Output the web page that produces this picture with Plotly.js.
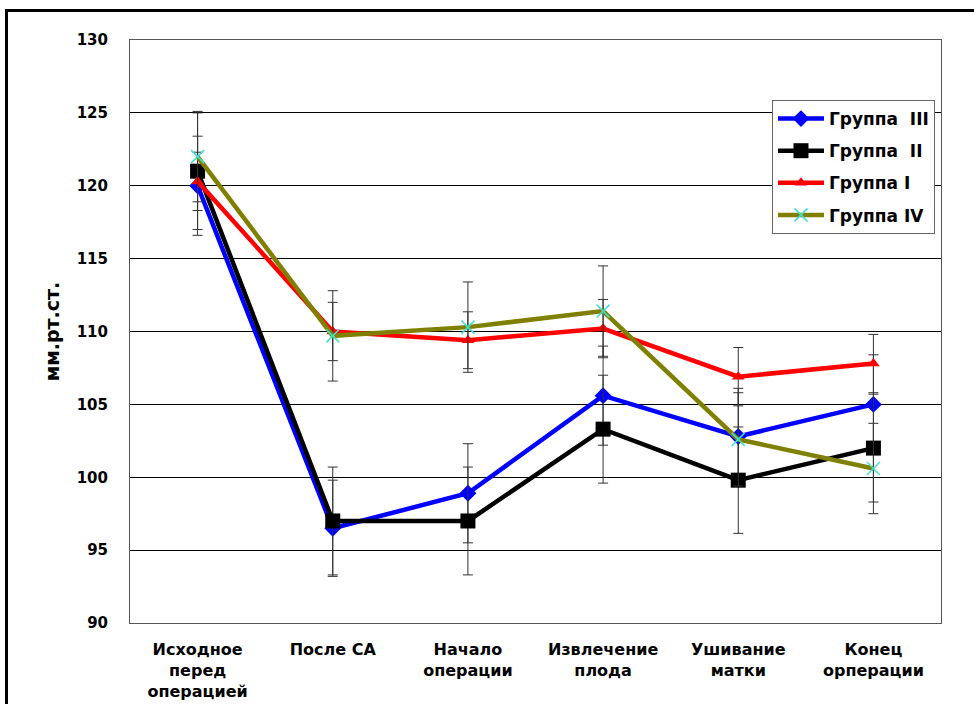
<!DOCTYPE html>
<html><head><meta charset="utf-8">
<script src="https://cdn.plot.ly/plotly-3.0.1.min.js"></script>
<style>
body{margin:0;padding:0;background:#fff;}
#wrap{position:relative;width:974px;height:704px;overflow:hidden;}
#chart{position:absolute;left:0;top:0;width:974px;height:704px;}
#frame{position:absolute;left:5px;top:9px;width:1000px;height:800px;border:3px solid #000;pointer-events:none;}
</style></head>
<body><div id="wrap"><div id="chart"></div><div id="frame"></div></div>
<script>
var categories = ["Исходное<br>перед<br>операцией","После СА","Начало<br>операции","Извлечение<br>плода","Ушивание<br>матки","Конец<br>орперации"];
var names = ["Группа  III","Группа  II","Группа I","Группа IV"];
var g3 = [120.0, 96.5, 98.9, 105.6, 102.8, 105.0];
var g2 = [121.0, 97.0, 97.0, 103.3, 99.8, 102.0];
var g1 = [120.3, 110.0, 109.4, 110.2, 106.9, 107.8];
var g4 = [122.0, 109.7, 110.3, 111.4, 102.6, 100.6];
var e3 = [3.4, 3.3, 3.4, 3.4, 3.3, 3.4];
var e2 = [4.0, 3.7, 3.7, 3.7, 3.65, 3.7];
var e1 = [2.0, 2.0, 1.95, 2.0, 2.0, 2.0];
var e4 = [3.1, 3.1, 3.1, 3.1, 3.2, 3.1];
var yTicks = [90,95,100,105,110,115,120,125,130];

function tr(y, e, name, color, sym, msize, mcolor, mline){
  return {x: categories, y: y, name: name, type: 'scatter', mode: 'lines+markers',
    legendgroup: name,
    line: {color: color, width: 4.5},
    marker: {symbol: sym, size: msize, color: mcolor, line: mline || {width:0}},
    error_y: {type: 'data', array: e, visible: true, color: '#333', thickness: 1, width: 5}};
}
var data = [
  tr(g3, e3, names[0], '#0000ff', 'diamond', 13, '#0000ff'),
  tr(g2, e2, names[1], '#000000', 'square', 15, '#000000'),
  tr(g1, e1, names[2], '#ff0000', 'triangle-up', 11, '#ff0000'),
  tr(g4, e4, names[3], '#808000', 'x-thin', 13, '#40e0d0', {width:1.5, color:'#40e0d0'})
];
var fam = '"DejaVu Sans", Verdana, sans-serif';
var bold = function(s){ return {family: fam, size: s, color: '#000', weight: 'bold'}; };
var layout = {
  width: 974, height: 704,
  margin: {l: 130, r: 33, t: 40, b: 81},
  paper_bgcolor: '#fff', plot_bgcolor: '#fff',
  font: {family: fam, color: '#000'},
  showlegend: true,
  legend: {x: 0.7916, y: 0.897, xanchor: 'left', yanchor: 'top',
    bgcolor: '#fff', bordercolor: '#666', borderwidth: 1,
    font: bold(17),
    traceorder: 'grouped', tracegroupgap: 7, itemwidth: 46},
  xaxis: {type: 'category', range: [-0.5, 5.5], showgrid: false, zeroline: false,
    showline: true, linecolor: '#555', linewidth: 1, mirror: true,
    ticks: '', tickfont: bold(16), ticklabelstandoff: 12},
  yaxis: {range: [90, 130], tickvals: yTicks, ticktext: yTicks.map(String),
    showgrid: true, gridcolor: '#000', gridwidth: 1, zeroline: false,
    showline: true, linecolor: '#555', linewidth: 1, mirror: true,
    ticks: '', tickfont: bold(15), ticklabelstandoff: 18,
    title: {text: 'мм.рт.ст.', font: bold(19), standoff: 12}}
};
Plotly.newPlot('chart', data, layout, {displayModeBar: false, staticPlot: true});
</script></body></html>
